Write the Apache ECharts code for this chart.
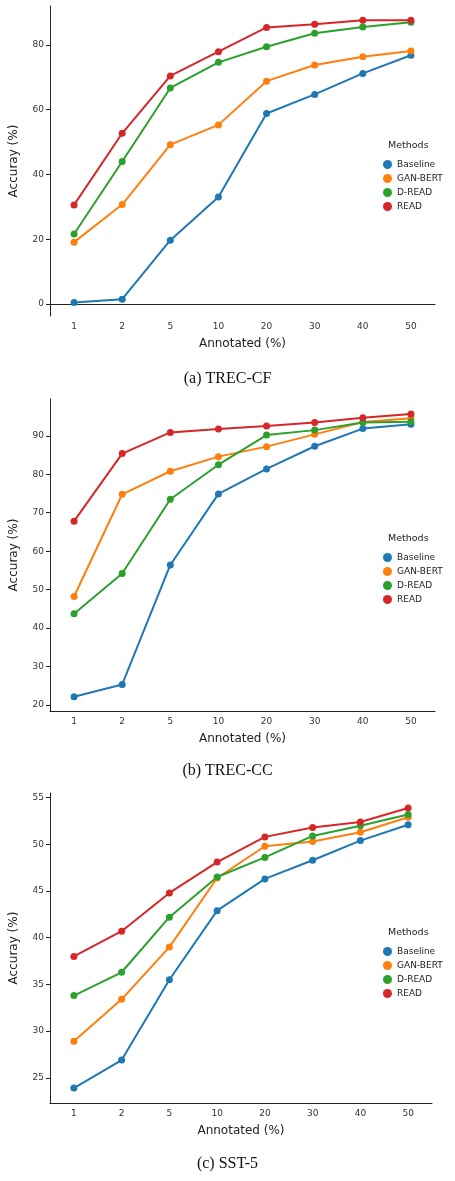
<!DOCTYPE html>
<html><head><meta charset="utf-8">
<script src="https://cdn.jsdelivr.net/npm/echarts@6/dist/echarts.min.js"></script>
<style>html,body{margin:0;padding:0;background:#fff}#c{width:455px;height:1181px}</style>
</head><body><div id="c"></div>
<script>
const categories = ['1','2','5','10','20','30','40','50'];
const methods = ['Baseline','GAN-BERT','D-READ','READ'];
const colors = ['#1f77b4','#ff7f0e','#2ca02c','#d62728'];
const trecCF = [
  [0.5,1.5,19.7,33,58.8,64.7,71.2,76.8],
  [19.1,30.7,49.2,55.3,68.8,73.8,76.3,78.1],
  [21.6,44,66.7,74.6,79.4,83.6,85.5,87],
  [30.6,52.7,70.4,77.9,85.4,86.4,87.6,87.6]
];
const trecCC = [
  [22.1,25.3,56.4,74.9,81.4,87.3,91.9,93],
  [48.2,74.8,80.8,84.6,87.2,90.4,93.6,94.6],
  [43.7,54.2,73.5,82.5,90.2,91.5,93.5,93.7],
  [67.8,85.4,90.9,91.8,92.6,93.5,94.7,95.7]
];
const sst5 = [
  [23.9,26.9,35.5,42.9,46.3,48.3,50.4,52.1],
  [28.9,33.4,39,46.4,49.8,50.3,51.3,52.9],
  [33.8,36.3,42.2,46.5,48.6,50.9,52,53.2],
  [38,40.7,44.8,48.1,50.8,51.8,52.4,53.9]
];
const ticksCF = [0,20,40,60,80];
const ticksCC = [20,30,40,50,60,70,80,90];
const ticksSST = [25,30,35,40,45,50,55];
const captions = ['(a) TREC-CF','(b) TREC-CC','(c) SST-5'];

const panels = [
  {data:trecCF, ticks:ticksCF, min:-3.7, max:92, grid:{left:46,top:6,width:389,height:310}, legendTop:155, capY:380},
  {data:trecCC, ticks:ticksCC, min:18.4, max:99.6, grid:{left:46,top:399,width:389,height:312}, legendTop:548, capY:772},
  {data:sst5, ticks:ticksSST, min:22.3, max:55.5, grid:{left:43,top:793,width:389,height:310}, legendTop:942, capY:1165}
];
const font = 'DejaVu Sans';
const option = {animation:false, grid:[], xAxis:[], yAxis:[], series:[], legend:[], graphic:[]};
panels.forEach((p,i)=>{
  option.grid.push(p.grid);
  option.xAxis.push({type:'category', gridIndex:i, data:categories, boundaryGap:true,
    name:'Annotated (%)', nameLocation:'middle', nameGap:22,
    nameTextStyle:{fontFamily:font,fontSize:12,color:'#222'},
    axisLine:{lineStyle:{color:'#222'}}, axisTick:{alignWithLabel:true,length:4,lineStyle:{color:'#222'}},
    axisLabel:{fontFamily:font,fontSize:9,color:'#333',margin:6}});
  option.yAxis.push({type:'value', gridIndex:i, min:p.min, max:p.max, splitLine:{show:false},
    name:'Accuray (%)', nameLocation:'middle', nameGap:30,
    nameTextStyle:{fontFamily:font,fontSize:12,color:'#222'},
    axisLine:{show:true,lineStyle:{color:'#222'}},
    axisTick:{show:true,length:4,customValues:p.ticks,lineStyle:{color:'#222'}},
    axisLabel:{fontFamily:font,fontSize:9,color:'#333',customValues:p.ticks,margin:6}});
  methods.forEach((m,k)=>{
    option.series.push({type:'line', name:m, xAxisIndex:i, yAxisIndex:i, data:p.data[k],
      symbol:'circle', symbolSize:7, color:colors[k], lineStyle:{width:2}});
  });
  option.legend.push({orient:'vertical', left:378, top:p.legendTop, data:methods, icon:'circle',
    itemWidth:9, itemHeight:9, itemGap:5, textStyle:{fontFamily:font,fontSize:9,color:'#222'}});
  option.graphic.push({type:'text', left:388, top:p.legendTop-14, style:{text:'Methods',fontFamily:font,fontSize:9.5,fill:'#222'}});
  option.graphic.push({type:'text', left:'center', top:p.capY-9, style:{text:captions[i],fontFamily:'Liberation Serif',fontSize:16,fill:'#111'}});
});
echarts.init(document.getElementById('c')).setOption(option);
</script></body></html>
